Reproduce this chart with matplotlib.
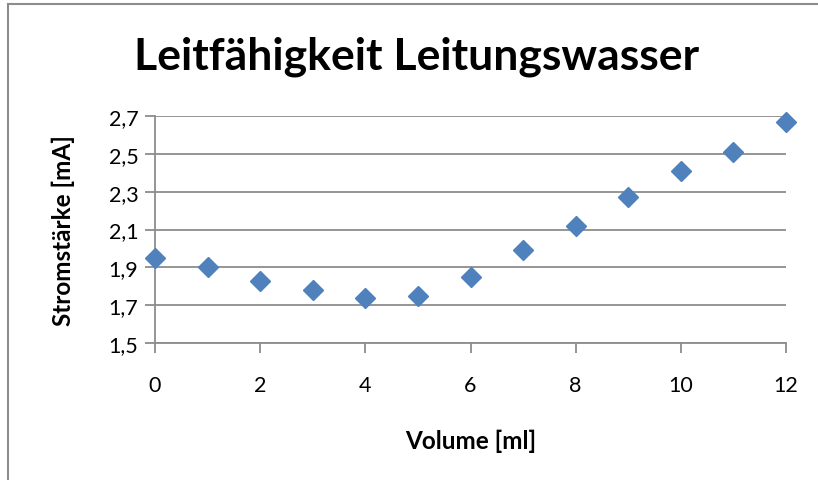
import matplotlib.pyplot as plt
from matplotlib.lines import Line2D

# data
volume = [0, 1, 2, 3, 4, 5, 6, 7, 8, 9, 10, 11, 12]
current = [1.95, 1.90, 1.83, 1.78, 1.74, 1.75, 1.85, 1.99, 2.12, 2.27, 2.41, 2.51, 2.67]
yticks = [1.5, 1.7, 1.9, 2.1, 2.3, 2.5, 2.7]
xticks = [0, 2, 4, 6, 8, 10, 12]

plt.rcParams['font.family'] = ['Lato', 'DejaVu Sans']

fig = plt.figure(figsize=(8.18, 4.81), dpi=100)
ax = fig.add_axes([155/818, 1 - 344/481, (786-155)/818, (344-117)/481])

ax.plot(volume, current, linestyle='none', marker='D', markersize=10,
        color='#4F81BD', markeredgecolor='#4F81BD', clip_on=False, zorder=3)

ax.set_xlim(0, 12)
ax.set_ylim(1.5, 2.7)
ax.set_xticks(xticks)
ax.set_yticks(yticks)
ax.set_yticklabels([f"{v:.1f}".replace('.', ',') for v in yticks])
ax.grid(axis='y', color='#8c8c8c', linewidth=1.3)
ax.set_axisbelow(True)

for s in ['top', 'right']:
    ax.spines[s].set_visible(False)
for s in ['left', 'bottom']:
    ax.spines[s].set_color('#8c8c8c')
    ax.spines[s].set_linewidth(1.3)

ax.tick_params(axis='both', colors='#8c8c8c', labelcolor='black', labelsize=15.5,
               width=1.3, length=7)
ax.tick_params(axis='x', pad=16)
ax.tick_params(axis='y', pad=5)

ax.set_xlabel('Volume [ml]', fontsize=17.5, fontweight='bold', va='center')
ax.set_ylabel('Stromstärke [mA]', fontsize=17.5, fontweight='bold', va='center')
ax.xaxis.set_label_coords(0.5, (344 - 441) / 227)
ax.yaxis.set_label_coords((63 - 155) / 631, 0.5)

fig.text(417/818, 1 - 57/481, 'Leitfähigkeit Leitungswasser', fontsize=32,
         fontweight='bold', ha='center', va='center')

# chart frame (partly cut off in the original)
fig.add_artist(Line2D([8/818, 8/818], [0, 1 - 5/481], color='#8c8c8c', linewidth=1.5))
fig.add_artist(Line2D([8/818, 1], [1 - 5/481, 1 - 5/481], color='#8c8c8c', linewidth=1.5))

fig.savefig('out.png', dpi=100)
